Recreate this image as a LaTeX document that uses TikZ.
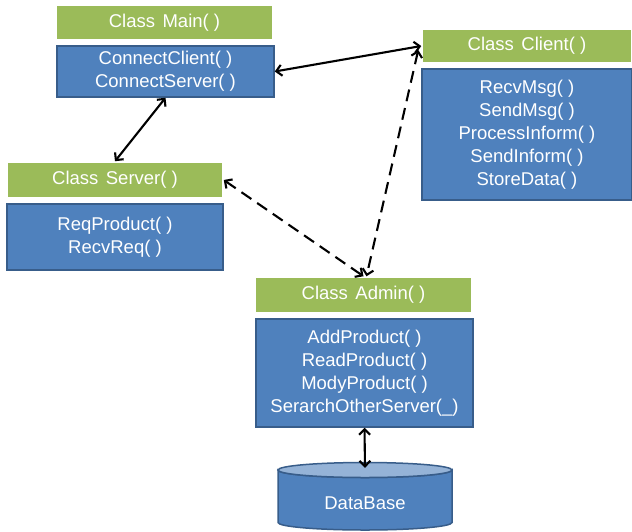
\documentclass[tikz,border=0pt]{standalone}
\usepackage{fontspec}
\setmainfont{Liberation Sans}
\usetikzlibrary{arrows.meta,shadows}
\definecolor{clsgreen}{HTML}{9BBB59}
\definecolor{clsblue}{HTML}{4F81BD}
\definecolor{clsedge}{HTML}{385D8A}
\definecolor{dbtop}{HTML}{95B3D7}
\newcommand{\clsname}[1]{Class\hspace{7.5pt}#1}
\begin{document}
\begin{tikzpicture}[x=1pt,y=-1pt,
  titlebox/.style={draw=white, line width=1.5pt, fill=clsgreen, text=white,
    inner sep=0pt, font=\fontsize{18.5}{22}\selectfont,
    drop shadow={shadow xshift=0.8pt, shadow yshift=-1.2pt, opacity=0.35, fill=black!60}},
  methodbox/.style={draw=clsedge, line width=1.5pt, fill=clsblue, text=white,
    align=center, inner sep=0pt, font=\fontsize{18.5}{23}\selectfont},
  tip/.tip={Straight Barb[length=5.5pt,width=11pt]},
  link/.style={line width=2.1pt, tip-tip},
  dlink/.style={link, dash pattern=on 12pt off 7pt}]
\useasboundingbox (0,0) rectangle (632,531);

% class Main
\node[titlebox, minimum width=217pt, minimum height=35pt] (maint) at (164.5,22.5) {\clsname{Main( )}};
\node[methodbox, minimum width=217pt, minimum height=51pt] (mainm) at (165.5,71.5)
  {ConnectClient( )\\ ConnectServer( )};

% class Client
\node[titlebox, minimum width=210pt, minimum height=34pt] (clientt) at (527,46) {\clsname{Client( )}};
\node[methodbox, minimum width=210pt, minimum height=131pt] (clientm) at (527,134.5)
  {RecvMsg( )\\ SendMsg( )\\ ProcessInform( )\\ SendInform( )\\ StoreData( )};

% class Server
\node[titlebox, minimum width=216pt, minimum height=36pt] (servert) at (115,180) {\clsname{Server( )}};
\node[methodbox, minimum width=216pt, minimum height=66pt] (serverm) at (115,237)
  {ReqProduct( )\\ RecvReq( )};

% class Admin
\node[titlebox, minimum width=217pt, minimum height=36pt] (admint) at (363.5,295) {\clsname{Admin( )}};
\node[methodbox, minimum width=217pt, minimum height=108pt] (adminm) at (364.5,373)
  {AddProduct( )\\ ReadProduct( )\\ ModyProduct( )\\ SerarchOtherServer(\_)};

% database cylinder
\path[fill=clsblue, draw=clsedge, line width=1.5pt]
  (278,470) -- (278,522.5)
  arc[start angle=180, end angle=0, x radius=87, y radius=7.5]
  -- (452,470)
  arc[start angle=0, end angle=180, x radius=87, y radius=7.5] -- cycle;
\path[fill=dbtop, draw=clsedge, line width=1.5pt]
  (365,470) ellipse[x radius=87, y radius=7.5];
\node[text=white, font=\fontsize{18}{22}\selectfont, minimum width=174pt,
  minimum height=67pt, inner sep=0pt] (db) at (365,496.5) {};
\node[text=white, font=\fontsize{18.5}{22}\selectfont] (dblabel) at (365,503) {DataBase};

% connectors
\draw[link] (mainm.east) -- (clientt.west);
\draw[link] (mainm.south) -- (servert.north);
\draw[dlink] (servert.east) -- (admint.north);
\draw[dlink] ([xshift=-3pt,yshift=-4pt]clientt.west) -- ([xshift=3pt]admint.north);
\draw[link] (adminm.south) -- ([yshift=-5pt]db.north);
\end{tikzpicture}
\end{document}
